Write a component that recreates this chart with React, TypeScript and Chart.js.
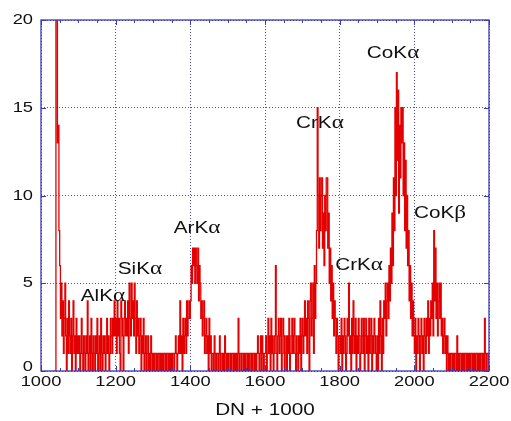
import React, { useEffect, useRef } from "react";
import { Chart, registerables } from "chart.js";

Chart.register(...registerables);

// Histogram of event counts, 2 DN wide bins starting at 1036 DN
const binStart = 1036;
const binWidth = 2;

const counts1000 = [0, 0, 22, 20, 13, 14, 8, 6, 3, 5, 2, 4, 1, 3, 5, 2, 0, 3, 1, 4, 2, 1, 3, 0, 2, 4, 1, 2, 0, 3, 1, 2];
const counts1100 = [
  1, 2, 0, 1, 3, 1, 0, 2, 1, 0, 2, 1, 4, 0, 1, 2, 0, 3, 1, 0, 2, 1, 0, 2, 1,
  3, 0, 1, 2, 0, 3, 1, 0, 2, 1, 2, 0, 1, 3, 1, 2, 0, 1, 3, 2, 1, 3, 2, 4, 2,
];
const counts1200 = [
  3, 1, 4, 2, 3, 1, 0, 4, 3, 2, 0, 3, 4, 2, 3, 2, 4, 1, 5, 3, 2, 5, 3, 4, 2,
  5, 3, 1, 4, 2, 3, 1, 2, 3, 0, 2, 1, 3, 0, 1, 2, 0, 1, 2, 0, 1, 0, 2, 1, 0,
];
const counts1300 = [
  1, 0, 1, 1, 0, 1, 0, 1, 1, 0, 1, 0, 1, 0, 1, 1, 0, 1, 0, 1, 1, 0, 1, 0, 1,
  0, 1, 1, 0, 1, 2, 1, 0, 1, 2, 1, 4, 1, 2, 0, 3, 1, 2, 3, 1, 4, 2, 3, 4, 3,
];
const counts1400 = [
  4, 6, 5, 7, 6, 7, 5, 7, 6, 5, 7, 4, 6, 5, 3, 4, 2, 3, 4, 1, 2, 3, 1, 2, 0,
  3, 1, 2, 0, 1, 1, 0, 2, 1, 0, 1, 1, 0, 1, 2, 0, 1, 1, 0, 1, 0, 2, 1, 0, 1,
];
const counts1500 = [
  0, 1, 1, 0, 1, 0, 1, 1, 0, 1, 0, 1, 0, 1, 3, 0, 1, 1, 0, 1, 1, 0, 1, 0, 1,
  1, 0, 1, 0, 1, 1, 0, 1, 0, 1, 1, 0, 1, 0, 1, 2, 1, 0, 1, 2, 0, 2, 1, 0, 1,
];
const counts1600 = [
  1, 2, 0, 1, 3, 1, 2, 0, 3, 1, 2, 0, 1, 2, 6, 1, 0, 2, 3, 1, 2, 3, 0, 1, 3,
  2, 0, 1, 2, 0, 2, 1, 3, 0, 1, 2, 3, 1, 2, 3, 1, 0, 2, 1, 0, 2, 1, 3, 0, 2,
];
const counts1700 = [
  3, 1, 2, 4, 2, 3, 1, 4, 3, 0, 4, 5, 2, 3, 5, 1, 6, 3, 5, 8, 15, 10, 7, 11, 8,
  10, 11, 7, 9, 6, 10, 8, 11, 11, 7, 9, 5, 7, 4, 6, 3, 5, 2, 4, 3, 1, 3, 2, 0, 2,
];
const counts1800 = [
  2, 1, 3, 0, 2, 1, 3, 2, 0, 1, 3, 2, 5, 1, 2, 0, 3, 1, 4, 2, 1, 3, 0, 2, 1,
  3, 2, 0, 1, 3, 2, 1, 3, 0, 2, 3, 1, 2, 0, 3, 1, 2, 3, 0, 2, 1, 3, 2, 1, 0,
];
const counts1900 = [
  2, 0, 3, 1, 4, 2, 0, 3, 1, 4, 3, 5, 2, 4, 5, 3, 6, 4, 7, 5, 9, 6, 11, 8, 15,
  10, 17, 12, 16, 9, 14, 11, 15, 13, 15, 10, 13, 8, 12, 7, 10, 6, 8, 4, 6, 3, 5, 2, 4, 2,
];
const counts2000 = [
  1, 3, 0, 2, 1, 3, 2, 0, 2, 3, 1, 2, 0, 3, 2, 1, 3, 2, 4, 1, 3, 2, 4, 3, 5,
  2, 8, 4, 7, 3, 5, 2, 4, 5, 3, 5, 2, 3, 1, 2, 3, 1, 2, 0, 2, 1, 0, 1, 0, 1,
];
const counts2100 = [
  1, 0, 1, 0, 1, 1, 0, 2, 0, 1, 0, 1, 1, 0, 1, 0, 1, 0, 1, 1, 0, 1, 0, 1, 0,
  1, 1, 0, 1, 0, 1, 0, 1, 1, 0, 1, 0, 1, 0, 1, 1, 0, 1, 0, 3, 1, 0, 1, 1, 0,
];

const xMin = 1000;
const xMax = 2200;
const xTicks = [1000, 1200, 1400, 1600, 1800, 2000, 2200];
const yTicks = [0, 5, 10, 15, 20];
const xTitle = "DN + 1000";

// Emission-line labels: element + line, placed in data coordinates
const lineNames = ["AlK", "SiK", "ArK", "CrK", "CoK", "CrK", "CoK"];
const lineGreek = ["α", "α", "α", "α", "α", "α", "β"];
const lineLabelX = [1166, 1265, 1418, 1747, 1943, 1852, 2069];
const lineLabelY = [4.27, 5.81, 8.15, 14.13, 18.12, 6.04, 9.0];

const SANS = '"Liberation Sans", Arial, Helvetica, sans-serif';
const SERIF = '"Liberation Serif", "DejaVu Serif", serif';
const FRAME = "#3a3ab4";
const GRID = "rgba(60,60,190,0.9)";
const TRACE = "#e30000";
const STRETCH = 1.22;

type Part = { text: string; font: string };

function drawParts(
  ctx: CanvasRenderingContext2D,
  parts: Part[],
  x: number,
  y: number,
  align: "left" | "center" | "right",
  stretch: number
) {
  ctx.save();
  ctx.translate(x, y);
  ctx.scale(stretch, 1);
  ctx.textBaseline = "middle";
  ctx.textAlign = "left";
  const widths = parts.map((p) => {
    ctx.font = p.font;
    return ctx.measureText(p.text).width;
  });
  const total = widths.reduce((a, b) => a + b, 0);
  let cx = align === "center" ? -total / 2 : align === "right" ? -total : 0;
  parts.forEach((p, i) => {
    ctx.font = p.font;
    ctx.fillText(p.text, cx, 0);
    cx += widths[i];
  });
  ctx.restore();
}

const decorations = {
  id: "spectrumDecorations",
  afterDatasetsDraw(chart: any) {
    const ctx: CanvasRenderingContext2D = chart.ctx;
    const { left, right, top, bottom } = chart.chartArea;
    const xs = chart.scales.x;
    const ys = chart.scales.y;

    ctx.save();
    // frame
    ctx.strokeStyle = FRAME;
    ctx.lineWidth = 1.3;
    ctx.strokeRect(left, top, right - left, bottom - top);

    // inward ticks on top and bottom edges
    ctx.lineWidth = 1;
    for (let v = xMin; v <= xMax; v += 50) {
      const px = Math.round(xs.getPixelForValue(v)) + 0.5;
      const len = v % 200 === 0 ? 5 : 3;
      ctx.beginPath();
      ctx.moveTo(px, top);
      ctx.lineTo(px, top + len);
      ctx.moveTo(px, bottom);
      ctx.lineTo(px, bottom - len);
      ctx.stroke();
    }
    // inward ticks on left and right edges
    for (const v of yTicks) {
      const py = Math.round(ys.getPixelForValue(v)) + 0.5;
      ctx.beginPath();
      ctx.moveTo(left, py);
      ctx.lineTo(left + 5, py);
      ctx.moveTo(right, py);
      ctx.lineTo(right - 5, py);
      ctx.stroke();
    }

    // line labels
    ctx.fillStyle = "#111";
    lineNames.forEach((name, i) => {
      drawParts(
        ctx,
        [
          { text: name, font: `17px ${SANS}` },
          { text: lineGreek[i], font: `19px ${SERIF}` },
        ],
        xs.getPixelForValue(lineLabelX[i]),
        ys.getPixelForValue(lineLabelY[i]),
        "center",
        STRETCH
      );
    });

    // tick labels
    xTicks.forEach((v) => {
      drawParts(ctx, [{ text: String(v), font: `15px ${SANS}` }], xs.getPixelForValue(v), bottom + 11, "center", STRETCH);
    });
    yTicks.forEach((v) => {
      const py = ys.getPixelForValue(v) - (v === 0 ? 4 : 0);
      drawParts(ctx, [{ text: String(v), font: `15px ${SANS}` }], left - 8, py, "right", STRETCH);
    });

    // axis title
    drawParts(ctx, [{ text: xTitle, font: `17px ${SANS}` }], (left + right) / 2, bottom + 39, "center", STRETCH);
    ctx.restore();
  },
};

export default function App() {
  const canvasRef = useRef<HTMLCanvasElement | null>(null);

  useEffect(() => {
    const canvas = canvasRef.current;
    if (!canvas) return;

    const counts = [
      ...counts1000, ...counts1100, ...counts1200, ...counts1300,
      ...counts1400, ...counts1500, ...counts1600, ...counts1700,
      ...counts1800, ...counts1900, ...counts2000, ...counts2100,
    ];
    const points = counts.map((c, i) => ({ x: binStart + i * binWidth, y: c }));
    points.push({ x: xMax, y: counts[counts.length - 1] });

    const chart = new Chart(canvas, {
      type: "line",
      data: {
        datasets: [
          {
            data: points,
            borderColor: TRACE,
            borderWidth: 1.3,
            pointRadius: 0,
            stepped: true,
            fill: false,
            tension: 0,
          },
        ],
      },
      options: {
        responsive: false,
        animation: false,
        events: [],
        layout: { padding: { top: 20, right: 22, left: 0, bottom: 0 } },
        plugins: { legend: { display: false }, tooltip: { enabled: false }, title: { display: false } },
        scales: {
          x: {
            type: "linear",
            min: xMin,
            max: xMax,
            afterFit: (s: any) => { s.height = 50; },
            afterBuildTicks: (s: any) => { s.ticks = xTicks.map((v) => ({ value: v })); },
            ticks: { display: false },
            grid: { color: GRID, lineWidth: 1, drawTicks: false },
            border: { display: false, dash: [1, 2] },
          },
          y: {
            type: "linear",
            min: 0,
            max: 20,
            afterFit: (s: any) => { s.width = 41; },
            afterBuildTicks: (s: any) => { s.ticks = yTicks.map((v) => ({ value: v })); },
            ticks: { display: false },
            grid: { color: GRID, lineWidth: 1, drawTicks: false },
            border: { display: false, dash: [1, 2] },
          },
        },
      },
      plugins: [decorations],
    });
    return () => chart.destroy();
  }, []);

  return (
    <div style={{ position: "absolute", left: 0, top: 0, width: 511, height: 421, background: "#fff" }}>
      <canvas ref={canvasRef} width={511} height={421} style={{ display: "block" }} />
    </div>
  );
}
